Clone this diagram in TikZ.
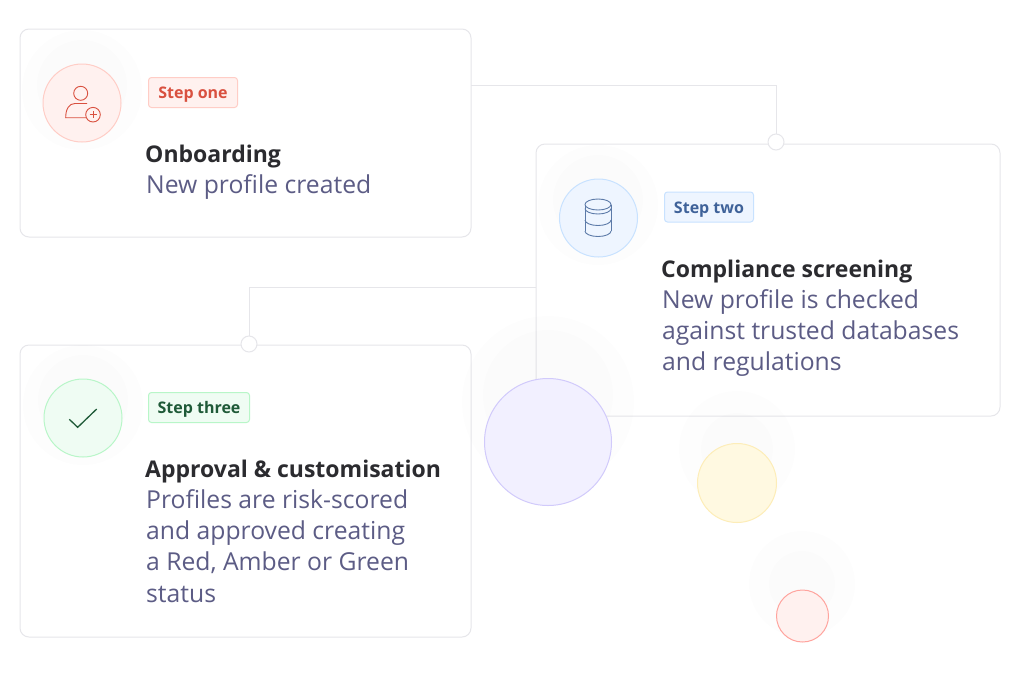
\documentclass[tikz,border=0pt]{standalone}
\usepackage{fontspec}
\usepackage{xcolor}
\setmainfont{Open Sans}
\usetikzlibrary{calc}
\definecolor{cardline}{RGB}{230, 230, 234}
\definecolor{headtext}{RGB}{43, 43, 47}
\definecolor{bodytext}{RGB}{92, 92, 133}
\definecolor{redline}{RGB}{255, 205, 198}
\definecolor{redfill}{RGB}{255, 241, 239}
\definecolor{redtext}{RGB}{217, 80, 63}
\definecolor{blueline}{RGB}{200, 226, 255}
\definecolor{bluefill}{RGB}{238, 245, 255}
\definecolor{bluetext}{RGB}{63, 98, 153}
\definecolor{greenline}{RGB}{184, 246, 200}
\definecolor{greenfill}{RGB}{239, 252, 243}
\definecolor{greentext}{RGB}{31, 90, 56}
\definecolor{purpleline}{RGB}{209, 202, 251}
\definecolor{purplefill}{RGB}{242, 240, 255}
\definecolor{yellowline}{RGB}{253, 237, 184}
\definecolor{yellowfill}{RGB}{255, 249, 225}

\begin{document}
\begin{tikzpicture}[x=1pt, y=-1pt,
    card/.style={rectangle, rounded corners=9pt, draw=cardline, line width=1pt,
                 fill=white, inner sep=0pt},
    badge/.style={rectangle, rounded corners=3pt, line width=1pt, inner sep=0pt,
                  minimum height=30pt, text depth=0pt, text height=12pt,
                  font=\fontsize{16}{16}\selectfont\bfseries},
    disc/.style={circle, line width=1pt, inner sep=0pt},
    halo/.style={circle, inner sep=0pt, fill=black, fill opacity=.006},
    haloin/.style={circle, inner sep=0pt, fill=black, fill opacity=.008},
    head/.style={anchor=base west, inner sep=0pt, text=headtext,
                 font=\fontsize{23}{23}\selectfont\bfseries},
    body/.style={anchor=north west, inner sep=0pt, align=left, text=bodytext,
                 font=\fontsize{24.7}{31.4}\selectfont},
    link/.style={draw=cardline, line width=1pt},
    dot/.style={circle, draw=cardline, line width=1pt, fill=white,
                inner sep=0pt, minimum size=16pt},
    iconred/.style={draw=redtext, line width=0.9pt},
    iconblue/.style={draw=bluetext!85, line width=0.9pt},
    icongreen/.style={draw=greentext, line width=1.3pt}]

    \useasboundingbox (0,0) rectangle (1024,683);
    \fill[white] (0,0) rectangle (1024,683);

    % Cards
    \node[card, minimum width=451pt, minimum height=208pt] (cardone)   at (245.5,133) {};
    \node[card, minimum width=464pt, minimum height=272pt] (cardtwo)   at (768,280)   {};
    \node[card, minimum width=451pt, minimum height=292pt] (cardthree) at (245.5,491) {};

    % Connectors
    \coordinate (oneout) at (471,85);
    \coordinate (twoout) at (536,287);
    \node[dot] (dottwo)   at (776,142) {};
    \node[dot] (dotthree) at (249,344) {};
    \draw[link] (oneout) -| (dottwo);
    \draw[link] (twoout) -| (dotthree);

    % Soft halos
    \node[halo, minimum size=120pt]   (haloone)    at (82,90)    {};
    \node[haloin, minimum size=90pt]  (haloonein)  at (82,85)    {};
    \node[halo, minimum size=120pt]   (halotwo)    at (598,205)  {};
    \node[haloin, minimum size=90pt]  (halotwoin)  at (598,200)  {};
    \node[halo, minimum size=120pt]   (halothree)  at (83,405)   {};
    \node[haloin, minimum size=90pt]  (halothreein) at (83,400)  {};
    \node[halo, minimum size=172pt]   (halopurple) at (548,402)  {};
    \node[haloin, minimum size=130pt] (halopurplein) at (548,395) {};
    \node[halo, minimum size=116pt]   (haloyellow) at (737,449)  {};
    \node[haloin, minimum size=72pt]  (haloyellowin) at (737,449) {};
    \node[halo, minimum size=106pt]   (halored)    at (802,584)  {};
    \node[haloin, minimum size=66pt]  (haloredin)  at (802,584)  {};

    % Icon discs
    \node[disc, draw=redline, fill=redfill, minimum size=78pt]     (discone)   at (82,103)    {};
    \node[disc, draw=blueline, fill=bluefill, minimum size=78pt]   (disctwo)   at (598.5,218) {};
    \node[disc, draw=greenline, fill=greenfill, minimum size=78pt] (discthree) at (83,418)    {};

    % Loose discs
    \node[disc, draw=purpleline, fill=purplefill, minimum size=127pt] (discpurple) at (548,442) {};
    \node[disc, draw=yellowline, fill=yellowfill, minimum size=79pt]  (discyellow) at (737,483) {};
    \node[disc, draw=redline!80!red, fill=redfill, minimum size=52pt] (discred)    at (802.5,616) {};

    % Person icon
    \draw[iconred] (80.7,93.3) circle (7);
    \draw[iconred] (86,117.7) -- (65.7,117.7)
        .. controls (65.7,109) and (69,103.5) .. (75,103.5) -- (87,103.5);
    \draw[iconred] (93,114.7) circle (7.3);
    \draw[iconred] (89.5,114.7) -- (96.5,114.7);
    \draw[iconred] (93,111.2) -- (93,118.2);

    % Database icon
    \draw[iconblue] (598,204.5) ellipse (13 and 5.5);
    \draw[iconblue] (585,204.5) -- (585,231);
    \draw[iconblue] (611,204.5) -- (611,231);
    \draw[iconblue] (585,208.5) arc (180:0:13 and 5.5);
    \draw[iconblue] (585,220) arc (180:0:13 and 5.5);
    \draw[iconblue] (585,231) arc (180:0:13 and 5.5);

    % Check icon
    \draw[icongreen] (69.3,419.3) -- (77.7,427.3) -- (96.7,409);

    % Badges
    \node[badge, draw=redline, fill=redfill, text=redtext, minimum width=89pt]
        (badgeone) at (193,92.5) {Step one};
    \node[badge, draw=blueline, fill=bluefill, text=bluetext, minimum width=89pt]
        (badgetwo) at (709,207) {Step two};
    \node[badge, draw=greenline, fill=greenfill, text=greentext, minimum width=101pt]
        (badgethree) at (199,407.5) {Step three};

    % Titles
    \node[head] (headone)   at (145,162) {Onboarding};
    \node[head] (headtwo)   at (661,277) {Compliance screening};
    \node[head] (headthree) at (145,477) {Approval \& customisation};

    % Descriptions
    \node[body] (bodyone)   at (146,174) {New profile created};
    \node[body] (bodytwo)   at (662,289) {New profile is checked\\against trusted databases\\and regulations};
    \node[body] (bodythree) at (146,489) {Profiles are risk-scored\\and approved creating\\a Red, Amber or Green\\status};

\end{tikzpicture}
\end{document}
